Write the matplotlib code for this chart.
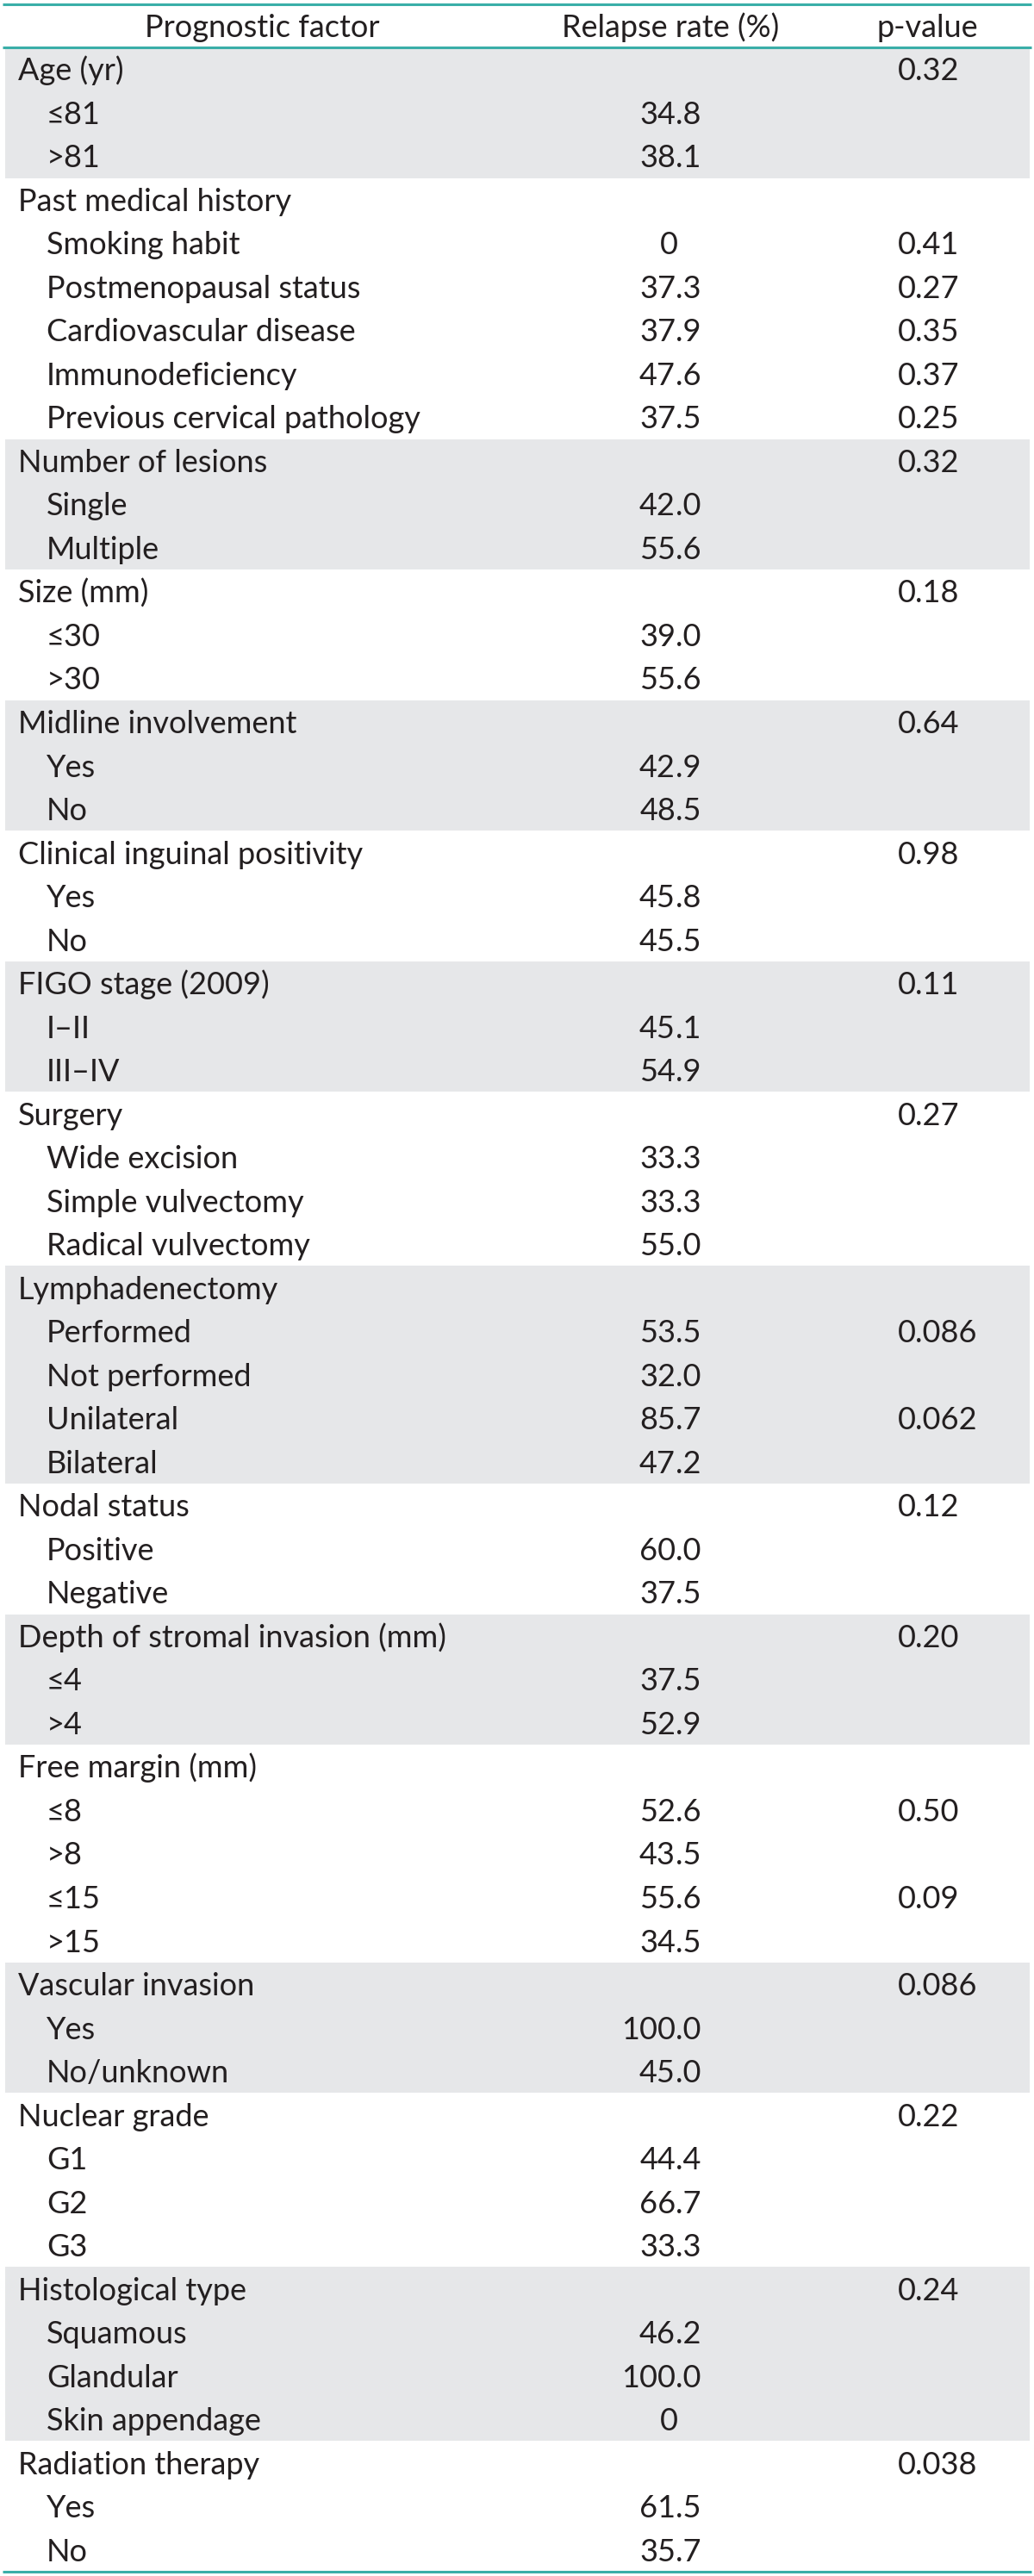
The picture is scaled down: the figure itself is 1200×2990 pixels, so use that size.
import matplotlib.pyplot as plt
from matplotlib.patches import Rectangle

plt.rcParams['font.family'] = ['Lato', 'DejaVu Sans']

# table content
groups = [
    "Age (yr)", "Past medical history", "Number of lesions", "Size (mm)",
    "Midline involvement", "Clinical inguinal positivity", "FIGO stage (2009)",
    "Surgery", "Lymphadenectomy", "Nodal status", "Depth of stromal invasion (mm)",
    "Free margin (mm)", "Vascular invasion", "Nuclear grade", "Histological type",
    "Radiation therapy",
]
group_p = ["0.32", "", "0.32", "0.18", "0.64", "0.98", "0.11", "0.27", "",
           "0.12", "0.20", "", "0.086", "0.22", "0.24", "0.038"]
items = [
    ["\u226481", ">81"],
    ["Smoking habit", "Postmenopausal status", "Cardiovascular disease",
     "Immunodeficiency", "Previous cervical pathology"],
    ["Single", "Multiple"],
    ["\u226430", ">30"],
    ["Yes", "No"],
    ["Yes", "No"],
    ["I\u2013II", "III\u2013IV"],
    ["Wide excision", "Simple vulvectomy", "Radical vulvectomy"],
    ["Performed", "Not performed", "Unilateral", "Bilateral"],
    ["Positive", "Negative"],
    ["\u22644", ">4"],
    ["\u22648", ">8", "\u226415", ">15"],
    ["Yes", "No/unknown"],
    ["G1", "G2", "G3"],
    ["Squamous", "Glandular", "Skin appendage"],
    ["Yes", "No"],
]
rates = [
    ["34.8", "38.1"],
    ["0", "37.3", "37.9", "47.6", "37.5"],
    ["42.0", "55.6"],
    ["39.0", "55.6"],
    ["42.9", "48.5"],
    ["45.8", "45.5"],
    ["45.1", "54.9"],
    ["33.3", "33.3", "55.0"],
    ["53.5", "32.0", "85.7", "47.2"],
    ["60.0", "37.5"],
    ["37.5", "52.9"],
    ["52.6", "43.5", "55.6", "34.5"],
    ["100.0", "45.0"],
    ["44.4", "66.7", "33.3"],
    ["46.2", "100.0", "0"],
    ["61.5", "35.7"],
]
item_p = [
    ["", ""],
    ["0.41", "0.27", "0.35", "0.37", "0.25"],
    ["", ""], ["", ""], ["", ""], ["", ""], ["", ""],
    ["", "", ""],
    ["0.086", "", "0.062", ""],
    ["", ""], ["", ""],
    ["0.50", "", "0.09", ""],
    ["", ""], ["", "", ""], ["", "", ""], ["", ""],
]
headers = ["Prognostic factor", "Relapse rate (%)", "p-value"]

W, H = 1200, 2990
teal = "#3aaea8"
shade = "#e6e7e9"
ink = "#231f20"
fs = 26

fig = plt.figure(figsize=(W / 100, H / 100), dpi=100)
ax = fig.add_axes([0, 0, 1, 1])
ax.set_xlim(0, W)
ax.set_ylim(H, 0)
ax.axis("off")

top, head_bot, bottom = 5, 55, 2985
n_rows = sum(len(it) + 1 for it in items)
row_h = (bottom - head_bot) / n_rows

# header
for txt, xc in zip(headers, [304, 778, 1076]):
    ax.text(xc, head_bot - 12, txt, ha="center", va="baseline", fontsize=fs, color=ink)

x_group, x_item, x_dec, x_p = 21, 54, 784, 1042


def rate_text(y, s):
    if not s:
        return
    if "." in s:
        a, b = s.split(".")
        ax.text(x_dec, y, a, ha="right", va="baseline", fontsize=fs, color=ink)
        ax.text(x_dec, y, "." + b, ha="left", va="baseline", fontsize=fs, color=ink)
    else:
        ax.text(x_dec + 3, y, s, ha="right", va="baseline", fontsize=fs, color=ink)


r = 0
for gi, g in enumerate(groups):
    n = len(items[gi]) + 1
    y0 = head_bot + r * row_h
    if gi % 2 == 0:
        ax.add_patch(Rectangle((6, y0), 1189, n * row_h, facecolor=shade, edgecolor="none", zorder=0))
    base = y0 + row_h / 2 + 13
    ax.text(x_group, base, g, ha="left", va="baseline", fontsize=fs, color=ink)
    if group_p[gi]:
        ax.text(x_p, base, group_p[gi], ha="left", va="baseline", fontsize=fs, color=ink)
    for k, name in enumerate(items[gi]):
        base = y0 + (k + 1.5) * row_h + 13
        ax.text(x_item, base, name, ha="left", va="baseline", fontsize=fs, color=ink)
        rate_text(base, rates[gi][k])
        if item_p[gi][k]:
            ax.text(x_p, base, item_p[gi][k], ha="left", va="baseline", fontsize=fs, color=ink)
    r += n

for yl in [top, head_bot, bottom]:
    ax.plot([3, 1197], [yl, yl], color=teal, lw=2.2, solid_capstyle="butt")

fig.savefig("out.png", dpi=100, facecolor="white")
